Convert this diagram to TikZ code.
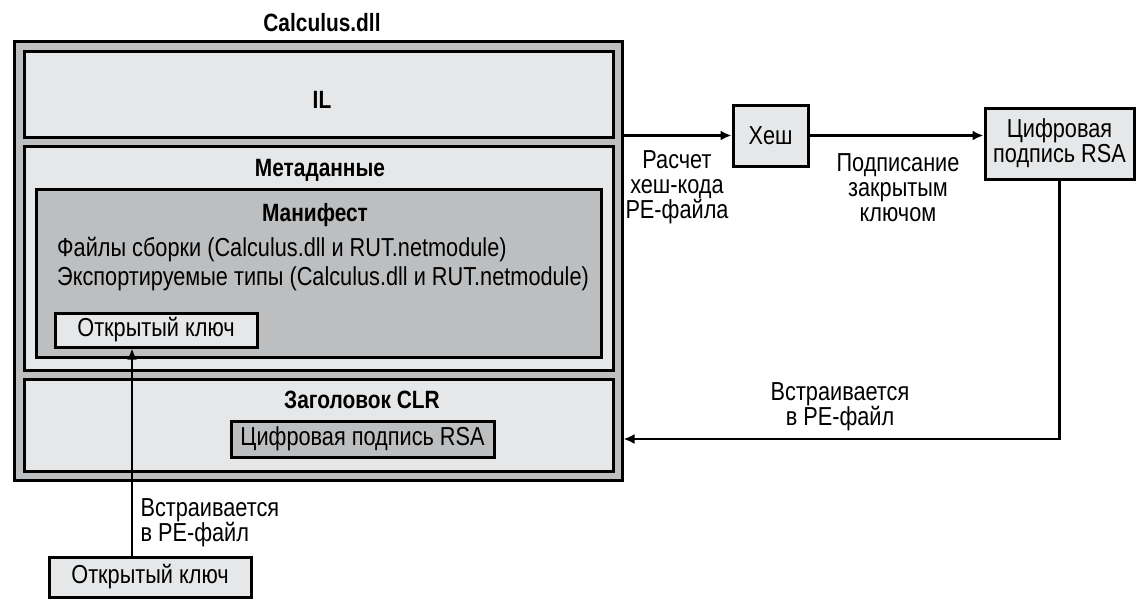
\documentclass[tikz,border=0pt]{standalone}
\usepackage{fontspec}
\setmainfont{Liberation Sans}[FakeStretch=0.835]
\usetikzlibrary{positioning,arrows.meta}
\definecolor{lightgray}{HTML}{E6E7E8}
\definecolor{midgray}{HTML}{BDBEC0}

\begin{document}
\begin{tikzpicture}[
    x=1pt, y=-1pt, % pixel units, y grows downwards
    every node/.style={font=\fontsize{26}{25}\selectfont},
    shell/.style={draw, line width=3pt, fill=midgray, inner sep=0pt}, % dark boxes
    panel/.style={draw, line width=3pt, fill=lightgray, inner sep=0pt}, % light boxes
    title/.style={font=\fontsize{25}{25}\selectfont\bfseries},
    note/.style={align=center},
    conn/.style={draw, line width=2.5pt, -{Latex[length=11pt,width=10pt]}}
]
\useasboundingbox (0,0) rectangle (1148,614);

% Assembly file
\node (dll) [shell, minimum width=608, minimum height=439] at (318,260.5) {};
\node (dllname) [title] at (322,23) {Calculus.dll};

\node (il) [panel, minimum width=589, minimum height=86] at (318.5,94) {};
\node (illabel) [title] at (322,100) {IL};

\node (meta) [panel, minimum width=589, minimum height=224] at (318.5,258) {};
\node (metalabel) [title] at (320,170) {Метаданные};

\node (mani) [shell, minimum width=565, minimum height=168] at (318.5,273) {};
\node (manilabel) [title] at (315,215) {Манифест};
\node (files) [anchor=west, inner sep=0pt] at (57,250) {Файлы сборки (Calculus.dll и RUT.netmodule)};
\node (types) [anchor=west, inner sep=0pt] at (57,279) {Экспортируемые типы (Calculus.dll и RUT.netmodule)};
\node (keyin) [panel, minimum width=202, minimum height=34] at (156,330) {Открытый ключ};

\node (clr) [panel, minimum width=589, minimum height=92] at (318.5,425) {};
\node (clrlabel) [title] at (362,400) {Заголовок CLR};
\node (sig) [shell, minimum width=263, minimum height=36] at (362.5,439) {Цифровая подпись RSA};

% Signing chain
\node (hash) [panel, minimum width=75, minimum height=61] at (770.5,135.5) {Хеш};
\node (rsa) [panel, minimum width=149, minimum height=71, note] at (1059.5,143.5) {Цифровая\\подпись RSA};
\node (keyout) [panel, minimum width=202, minimum height=40] at (150,577) {Открытый ключ};

\node (calc) [note] at (677,187) {Расчет\\хеш-кода\\PE-файла};
\node (signing) [note] at (898,188) {Подписание\\закрытым\\ключом};
\node (embedsig) [note] at (840,407) {Встраивается\\в PE-файл};
\node (embedkey) [align=left, anchor=west] at (137,523) {Встраивается\\в PE-файл};

\coordinate (up) at (132,0);
\draw[conn] (dll.east |- hash.west) -- (hash.west);
\draw[conn] (hash.east) -- (rsa.west |- hash.east);
\draw[conn] (rsa.south) -- (rsa.south |- sig.east) -- (dll.east |- sig.east);
\draw[conn] (keyout.north -| up) -- (keyin.south -| up);

\end{tikzpicture}
\end{document}
